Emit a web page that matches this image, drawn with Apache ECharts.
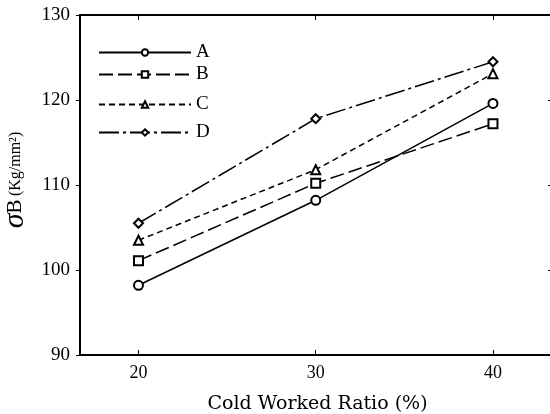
<!DOCTYPE html>
<html>
<head>
<meta charset="utf-8">
<script src="https://cdn.jsdelivr.net/npm/echarts@6/dist/echarts.min.js"></script>
</head>
<body style="margin:0;background:#fff">
<div id="main" style="width:550px;height:414px"></div>
<script>
// cold worked ratio (%)
var ratios = [20, 30, 40];
// sigma B (Kg/mm2)
var valuesA = [98.2, 108.2, 119.6];
var valuesB = [101.1, 110.2, 117.2];
var valuesC = [103.5, 111.8, 123.1];
var valuesD = [105.5, 117.8, 124.5];
var names = ['A', 'B', 'C', 'D'];

var serif = 'Liberation Serif';
var chart = echarts.init(document.getElementById('main'));

function pairs(vals) {
    return ratios.map(function (r, i) { return [r, vals[i]]; });
}

function makeSeries(name, vals, symbol, dash) {
    return {
        name: name,
        type: 'line',
        data: pairs(vals),
        symbol: symbol,
        symbolSize: 9,
        animation: false,
        lineStyle: { color: '#000', width: 1.5, type: dash },
        itemStyle: { color: '#000', borderWidth: 1.3 }
    };
}

// one legend per row, rows are not evenly spaced in the picture
var legendTops = [38, 60, 90, 118];
var legends = names.map(function (n, i) {
    return {
        data: [n],
        left: 93,
        top: legendTops[i],
        itemWidth: 92,
        itemHeight: 8,
        selectedMode: false,
        textStyle: { fontFamily: serif, fontSize: 19, color: '#000' }
    };
});

var option = {
    backgroundColor: '#fff',
    legend: legends,
    grid: { left: 80, top: 15, bottom: 59, right: -5, outerBoundsMode: 'none', containLabel: false },
    xAxis: [{
        type: 'value',
        min: 16.7,
        max: 43.5,
        splitLine: { show: false },
        axisLine: { lineStyle: { color: '#000', width: 2 } },
        axisTick: { inside: true, length: 5, customValues: ratios, lineStyle: { color: '#000' } },
        axisLabel: { color: '#000', fontFamily: serif, fontSize: 18, margin: 9, customValues: ratios },
        name: 'Cold Worked Ratio (%)',
        nameLocation: 'middle',
        nameGap: 40,
        nameTextStyle: { color: '#000', fontFamily: 'DejaVu Serif', fontSize: 19 }
    }, {
        type: 'value',
        position: 'top',
        min: 16.7,
        max: 43.5,
        splitLine: { show: false },
        axisLine: { lineStyle: { color: '#000', width: 2 } },
        axisTick: { inside: true, length: 5, customValues: ratios, lineStyle: { color: '#000' } },
        axisLabel: { show: false }
    }],
    yAxis: [{
        type: 'value',
        min: 90,
        max: 130,
        interval: 10,
        splitLine: { show: false },
        axisLine: { lineStyle: { color: '#000', width: 2 } },
        axisTick: { length: 4, lineStyle: { color: '#000' } },
        axisLabel: { color: '#000', fontFamily: serif, fontSize: 19, margin: 10 },
        name: '{s|σ}{b|B} {u|(Kg/mm²)}',
        nameLocation: 'middle',
        nameRotate: 90,
        nameGap: 42,
        nameTextStyle: {
            color: '#000',
            padding: [0, 0, 0, 10],
            rich: {
                s: { fontFamily: serif, fontStyle: 'italic', fontSize: 30, color: '#000' },
                b: { fontFamily: serif, fontSize: 21, color: '#000' },
                u: { fontFamily: serif, fontSize: 16, color: '#000' }
            }
        }
    }, {
        type: 'value',
        position: 'right',
        min: 90,
        max: 130,
        interval: 10,
        splitLine: { show: false },
        axisLine: { lineStyle: { color: '#000', width: 2 } },
        axisTick: { inside: true, length: 7, lineStyle: { color: '#000' } },
        axisLabel: { show: false }
    }],
    series: [
        makeSeries('A', valuesA, 'emptyCircle', 'solid'),
        makeSeries('B', valuesB, 'emptyRect', [14, 5]),
        makeSeries('C', valuesC, 'emptyTriangle', [6, 4]),
        makeSeries('D', valuesD, 'emptyDiamond', [20, 4, 3, 4])
    ]
};

chart.setOption(option);
</script>
</body>
</html>
